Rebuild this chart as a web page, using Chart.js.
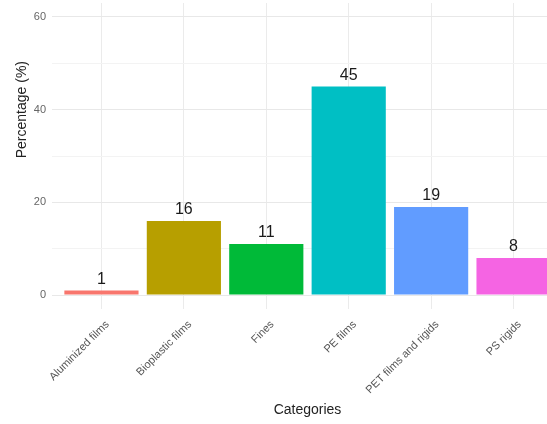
<!DOCTYPE html>
<html>
<head>
<meta charset="utf-8">
<script src="https://cdn.jsdelivr.net/npm/chart.js@4"></script>
<style>
  html, body { margin: 0; padding: 0; background: #fff; overflow: hidden; }
  canvas { display: block; }
</style>
</head>
<body>
<canvas id="graf-barras" width="565" height="424"></canvas>
<script>
// dados
const categories = ["Aluminized films", "Bioplastic films", "Fines", "PE films", "PET films and rigids", "PS rigids"];
const percentages = [1, 16, 11, 45, 19, 8];
const barColors = ["#F8766D", "#B79F00", "#00BA38", "#00BFC4", "#619CFF", "#F564E3"];
const yTicks = [0, 10, 20, 30, 40, 50, 60];

const FONT = "'Liberation Sans', Arial, sans-serif";

// rótulos em cima das barras + título do eixo y
const valueLabels = {
  id: "valueLabels",
  afterDatasetsDraw(chart) {
    const ctx = chart.ctx;
    const meta = chart.getDatasetMeta(0);
    ctx.save();
    ctx.font = "16px " + FONT;
    ctx.fillStyle = "#1a1a1a";
    ctx.textAlign = "center";
    ctx.textBaseline = "bottom";
    meta.data.forEach((bar, i) => {
      ctx.fillText(String(percentages[i]), bar.x, bar.y - 3);
    });

    // título do eixo y (fica mais alto que o centro do painel)
    const yTitleY = chart.scales.y.getPixelForValue(40);
    ctx.translate(22, yTitleY);
    ctx.rotate(-Math.PI / 2);
    ctx.font = "14px " + FONT;
    ctx.fillStyle = "#222";
    ctx.textBaseline = "middle";
    ctx.fillText("Percentage (%)", 0, 0);
    ctx.restore();
  }
};

new Chart(document.getElementById("graf-barras"), {
  type: "bar",
  data: {
    datasets: [{
      data: percentages.map((v, i) => ({ x: i + 1, y: v })),
      backgroundColor: barColors,
      barPercentage: 0.9,
      categoryPercentage: 1
    }]
  },
  options: {
    responsive: false,
    animation: false,
    layout: { padding: { top: 3, right: 2, bottom: 1, left: 0 } },
    plugins: { legend: { display: false }, tooltip: { enabled: false } },
    scales: {
      x: {
        type: "linear",
        min: 0.4,
        max: 6.6,
        offset: false,
        afterBuildTicks: (s) => { s.ticks = categories.map((c, i) => ({ value: i + 1 })); },
        afterFit: (s) => { s.height = 114; s.paddingLeft = 0; s.paddingRight = 0; },
        border: { display: false },
        grid: { color: "#ebebeb", drawTicks: false, offset: false },
        ticks: {
          autoSkip: false,
          minRotation: 45,
          maxRotation: 45,
          padding: 9,
          labelOffset: 6,
          color: "#555",
          font: { family: FONT, size: 11 },
          callback: (v) => categories[v - 1]
        },
        title: {
          display: true,
          text: "Categories",
          color: "#222",
          padding: { top: 4, bottom: 4 },
          font: { family: FONT, size: 14 }
        }
      },
      y: {
        min: -3,
        max: 63,
        afterBuildTicks: (s) => { s.ticks = yTicks.map(v => ({ value: v })); },
        afterFit: (s) => { s.width = 52; s.paddingTop = 0; s.paddingBottom = 0; },
        border: { display: false },
        grid: {
          drawTicks: false,
          color: (c) => (c.tick && c.tick.value % 20 === 0) ? "#e8e8e8" : "#f3f3f3"
        },
        ticks: {
          padding: 6,
          color: "#666",
          font: { family: FONT, size: 11 },
          callback: (v) => (v % 20 === 0 ? v : "")
        },
        title: { display: false }
      }
    }
  },
  plugins: [valueLabels]
});
</script>
</body>
</html>
